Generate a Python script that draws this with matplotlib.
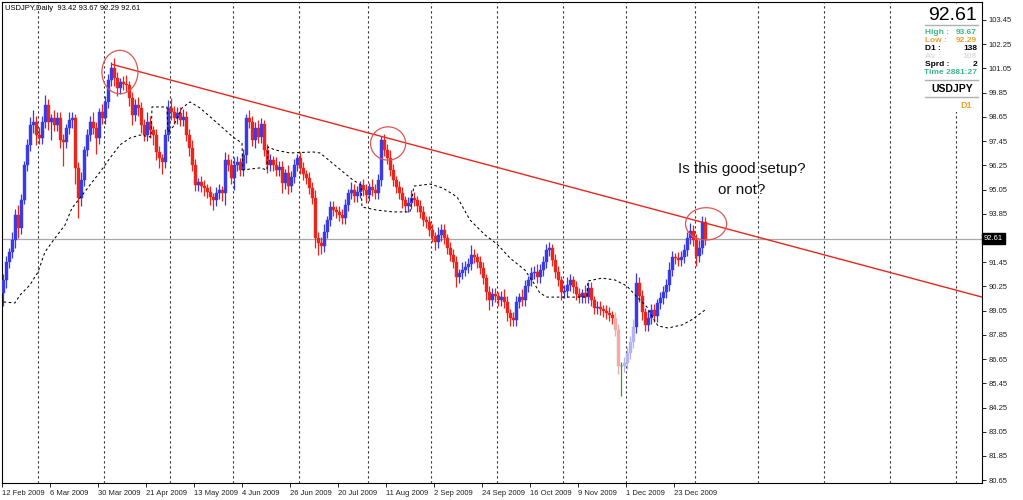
import numpy as np
import matplotlib.pyplot as plt
from matplotlib.patches import Ellipse, Rectangle

# ---- data (USDJPY daily) ----
closes = [
    90.57, 91.46, 91.95, 92.55, 93.79, 93.14, 94.53, 96.26, 97.26, 98.25,
    98.39, 97.75, 97.60, 98.39, 99.24, 98.39, 98.59, 98.25, 98.59, 97.50,
    97.40, 98.10, 98.49, 98.59, 96.12, 94.63, 95.52, 97.01, 97.75, 98.39,
    98.10, 97.60, 98.89, 98.59, 99.39, 100.48, 101.07, 100.58, 100.08, 100.38,
    100.30, 100.23, 99.58, 98.74, 99.24, 99.09, 98.25, 97.75, 98.39, 98.00,
    97.75, 96.91, 96.61, 96.41, 97.75, 99.09, 98.89, 98.59, 98.84, 98.49,
    98.64, 97.75, 97.11, 96.26, 95.27, 95.42, 95.22, 95.12, 94.93, 94.68,
    94.53, 94.88, 95.03, 94.88, 96.51, 96.26, 95.62, 96.26, 96.41, 96.02,
    96.76, 98.59, 98.39, 97.50, 98.10, 97.65, 98.30, 97.01, 96.26, 96.51,
    96.26, 96.02, 96.16, 95.37, 95.87, 95.22, 95.67, 96.26, 96.61, 96.12,
    95.82, 95.62, 95.12, 94.63, 92.65, 92.40, 92.25, 92.94, 93.54, 94.18,
    94.03, 93.94, 93.79, 93.64, 94.28, 94.88, 95.03, 94.73, 94.93, 95.27,
    95.03, 94.78, 95.17, 95.03, 94.88, 95.52, 97.50, 97.01, 96.61, 96.02,
    95.52, 95.17, 94.88, 94.53, 94.23, 94.38, 94.63, 94.53, 94.23, 93.94,
    93.54, 93.44, 93.04, 92.75, 92.45, 92.80, 93.04, 92.65, 92.15, 91.80,
    91.46, 90.71, 90.91, 91.06, 91.21, 91.36, 91.80, 91.71, 91.46, 91.16,
    90.67, 89.97, 89.57, 89.87, 89.77, 89.57, 89.72, 89.48, 88.93, 88.68,
    88.58, 89.48, 89.72, 89.57, 90.27, 90.57, 90.91, 90.96, 90.71, 91.06,
    91.46, 92.05, 92.15, 91.56, 90.96, 90.57, 89.97, 90.02, 90.32, 90.57,
    90.22, 89.87, 89.72, 89.92, 89.72, 90.17, 89.57, 89.18, 89.23, 89.13,
    89.03, 88.93, 88.83, 88.68, 88.09, 86.30, 86.30, 86.45, 86.95, 87.49,
    88.24, 90.42, 89.77, 88.98, 88.34, 88.68, 89.08, 88.78, 89.43, 89.67,
    89.97, 90.32, 91.06, 91.71, 91.66, 91.56, 91.71, 92.05, 92.65, 92.99,
    92.55, 91.76, 92.15, 93.42, 92.61,
]
first_open = 89.90

wick_up = [
    0.3, 0.3, 0.2, 0.4, 0.3, 0.5, 0.3, 0.2, 0.3, 0.4, 0.6, 0.3, 0.4, 0.3, 0.5, 0.3, 0.2, 0.4, 0.3, 0.3,
    0.3, 0.2, 0.4, 0.3, 0.2, 0.3, 0.4, 0.2, 0.3, 0.3, 0.5, 0.3, 0.2, 0.4, 0.3, 0.3, 0.3, 0.5, 0.3, 0.2,
    0.3, 0.4, 0.2, 0.3, 0.3, 0.4, 0.3, 0.3, 0.5, 0.3, 0.2, 0.3, 0.3, 0.2, 0.3, 0.4, 0.5, 0.3, 0.3, 0.3,
    0.4, 0.3, 0.3, 0.4, 0.3, 0.2, 0.3, 0.3, 0.2, 0.3, 0.2, 0.3, 0.3, 0.2, 0.4, 0.3, 0.3, 0.4, 0.3, 0.2,
    0.3, 0.2, 0.4, 0.3, 0.3, 0.4, 0.3, 0.2, 0.3, 0.3, 0.2, 0.4, 0.3, 0.3, 0.2, 0.4, 0.3, 0.3, 0.2, 0.3,
    0.3, 0.2, 0.3, 0.3, 0.4, 0.3, 0.3, 0.4, 0.2, 0.3, 0.3, 0.2, 0.3, 0.3, 0.3, 0.2, 0.4, 0.3, 0.3, 0.2,
    0.3, 0.3, 0.2, 0.4, 0.3, 0.3, 0.2, 0.3, 0.3, 0.4, 0.3, 0.2, 0.3, 0.3, 0.2, 0.3, 0.4, 0.3, 0.2, 0.3,
    0.3, 0.2, 0.3, 0.3, 0.2, 0.4, 0.3, 0.3, 0.2, 0.3, 0.3, 0.3, 0.2, 0.4, 0.3, 0.3, 0.5, 0.3, 0.2, 0.3,
    0.3, 0.2, 0.3, 0.3, 0.3, 0.2, 0.3, 0.4, 0.3, 0.2, 0.3, 0.3, 0.2, 0.4, 0.3, 0.2, 0.3, 0.3, 0.4, 0.3,
    0.3, 0.3, 0.3, 0.2, 0.3, 0.3, 0.2, 0.3, 0.4, 0.3, 0.2, 0.3, 0.3, 0.2, 0.4, 0.3, 0.3, 0.2, 0.3, 0.3,
    0.2, 0.3, 0.3, 0.2, 0.3, 0.3, 0.2, 0.3, 0.3, 0.3, 0.4, 0.5, 0.3, 0.3, 0.2, 0.4, 0.3, 0.3, 0.2, 0.3,
    0.3, 0.3, 0.4, 0.3, 0.2, 0.3, 0.3, 0.3, 0.3, 0.4, 0.3, 0.3, 0.4, 0.3, 0.25,
]
wick_dn = [
    0.6, 0.4, 0.3, 0.3, 0.4, 0.5, 0.3, 0.2, 0.3, 0.3, 0.4, 0.5, 0.3, 0.3, 0.3, 0.4, 0.9, 0.3, 0.3, 0.4,
    1.2, 0.3, 0.3, 0.4, 0.8, 1.0, 0.4, 0.3, 0.3, 0.3, 0.3, 0.8, 0.3, 0.3, 0.3, 0.3, 0.3, 0.4, 0.4, 0.3,
    0.3, 0.3, 0.4, 0.5, 0.3, 0.4, 0.4, 0.3, 0.3, 0.4, 0.5, 0.4, 0.5, 0.6, 0.3, 0.3, 0.4, 0.3, 0.3, 0.3,
    0.3, 0.3, 0.4, 0.3, 0.3, 0.3, 0.3, 0.4, 0.3, 0.4, 0.5, 0.3, 0.3, 0.4, 0.6, 0.3, 0.3, 0.6, 0.3, 0.3,
    0.3, 0.4, 0.3, 0.3, 0.4, 0.3, 0.3, 0.3, 0.4, 0.3, 0.3, 0.3, 0.3, 0.5, 0.3, 0.4, 0.3, 0.3, 0.3, 0.3,
    0.3, 0.3, 0.3, 0.3, 0.5, 0.6, 0.4, 0.3, 0.3, 0.3, 0.3, 0.3, 0.3, 0.3, 0.3, 0.3, 0.3, 0.3, 0.3, 0.3,
    0.3, 0.4, 0.3, 0.3, 0.3, 0.3, 0.3, 0.3, 0.3, 0.3, 0.3, 0.3, 0.3, 0.4, 0.3, 0.3, 0.3, 0.3, 0.3, 0.3,
    0.3, 0.3, 0.3, 0.3, 0.4, 0.3, 0.3, 0.3, 0.3, 0.3, 0.3, 0.5, 0.3, 0.3, 0.3, 0.3, 0.3, 0.3, 0.3, 0.3,
    0.3, 0.4, 0.5, 0.3, 0.3, 0.3, 0.3, 0.3, 0.4, 0.4, 0.3, 0.3, 0.3, 0.3, 0.3, 0.3, 0.3, 0.3, 0.3, 0.3,
    0.3, 0.3, 0.3, 0.3, 0.3, 0.3, 0.4, 0.3, 0.3, 0.3, 0.3, 0.3, 0.3, 0.3, 0.3, 0.3, 0.3, 0.3, 0.3, 0.3,
    0.3, 0.3, 0.3, 0.3, 0.3, 0.4, 1.5, 0.3, 0.3, 0.3, 0.3, 0.3, 0.3, 0.4, 0.3, 0.3, 0.3, 0.3, 0.3, 0.3,
    0.3, 0.3, 0.3, 0.3, 0.3, 0.3, 0.3, 0.3, 0.3, 0.3, 0.3, 0.5, 0.3, 0.3, 0.32,
]

# dashed average (bar index, price), vertical steps included
ma_bar = [0, 3.8, 5.5, 8.8, 11.5, 13.8, 17.2, 20.5, 22.8, 25.5, 28.8, 32.2, 35.5, 38.8,
          42.2, 45.5, 49.2, 49.5, 54.5, 54.8, 56.5, 59.5, 62.2, 65.5, 71.2, 76.5, 79.5,
          79.8, 85.5, 87.8, 88.2, 90.5, 95.5, 103.2, 105.5, 108.8, 113.2, 116.5, 119.2,
          119.5, 124.5, 129.8, 135.5, 136.8, 142.2, 146.5, 151.2, 155.5, 160.5, 164.5,
          168.8, 173.8, 177.2, 178.8, 181.2, 194.5, 194.8, 199.5, 203.8, 207.8, 211.2,
          214.5, 216.5, 218.2, 221.5, 226.2, 229.8, 233.8]
ma_val = [89.48, 89.43, 89.82, 90.32, 90.96, 91.95, 92.65, 93.29, 94.13, 94.63, 95.27,
          95.92, 96.61, 97.26, 97.60, 97.75, 97.65, 99.14, 99.14, 97.90, 98.15, 99.09,
          99.39, 99.09, 98.35, 97.65, 97.35, 96.02, 96.12, 96.02, 97.16, 97.01, 96.86,
          96.91, 96.86, 96.46, 95.92, 95.52, 95.27, 94.18, 94.03, 93.94, 93.94, 95.22,
          95.32, 95.12, 94.68, 93.54, 92.80, 92.35, 91.66, 91.06, 90.32, 89.92, 89.72,
          89.72, 90.52, 90.66, 90.57, 90.27, 89.72, 89.23, 88.68, 88.29, 88.19, 88.34,
          88.63, 89.08]

trend_bar = [36.2, 326.2]
trend_val = [101.25, 89.72]

circle_bar = [38.8, 128.2, 234.2]
circle_val = [100.87, 97.33, 93.35]

month_start = [12, 34, 56, 77, 99, 122, 143, 165, 187, 208, 231, 252, 274, 296, 318]

date_labels = ['12 Feb 2009', '6 Mar 2009', '30 Mar 2009', '21 Apr 2009', '13 May 2009',
               '4 Jun 2009', '26 Jun 2009', '20 Jul 2009', '11 Aug 2009', '2 Sep 2009',
               '24 Sep 2009', '16 Oct 2009', '9 Nov 2009', '1 Dec 2009', '23 Dec 2009']
price_ticks = [103.45, 102.25, 101.05, 99.85, 98.65, 97.45, 96.25, 95.05, 93.85,
               91.45, 90.25, 89.05, 87.85, 86.65, 85.45, 84.25, 83.05, 81.85, 80.65]
bid = 92.61

# ---- figure ----
W, H = 1023, 500
fig = plt.figure(figsize=(W / 100, H / 100), dpi=100)
ax = fig.add_axes([2 / W, 17 / H, 980 / W, 481 / H])
ax.set_xlim(-0.5, 326.17)
ax.set_ylim(80.51, 104.34)

n = len(closes)
idx = np.arange(n)
c = np.array(closes)
o = np.array([first_open] + closes[:-1])
hi = np.maximum(o, c) + np.array(wick_up)
lo = np.minimum(o, c) - np.array(wick_dn)

bull, bear = '#3a3ae6', '#e8261e'
faded = range(204, 211)
cols = []
for i in range(n):
    if abs(c[i] - o[i]) < 1e-6:
        cols.append('#2ca02c')
    elif c[i] > o[i]:
        cols.append('#b4b4f2' if i in faded else bull)
    else:
        cols.append('#f4aaaa' if i in faded else bear)

# month separators
for m in month_start:
    ax.axvline(m - 0.5, color='#303030', lw=0.8, ls=(0, (2, 2.5)), zorder=1)

ax.axhline(bid, color='#a8a8a8', lw=0.9, zorder=1)

ax.vlines(idx, lo, hi, colors=cols, lw=0.9, zorder=3)
ax.bar(idx, c - o, bottom=o, width=0.78, color=cols, edgecolor=cols, lw=0.3, zorder=4)

ax.plot(ma_bar, ma_val, color='black', lw=0.75, ls=(0, (2.5, 2.5)), zorder=5)
ax.plot(trend_bar, trend_val, color='#e8261e', lw=1.0, zorder=6)

circle_w = [12.0, 11.7, 13.7]
circle_h = [2.15, 1.65, 1.6]
for b, v, w, h in zip(circle_bar, circle_val, circle_w, circle_h):
    ax.add_patch(Ellipse((b, v), w, h, fill=False, ec='#e05555', lw=0.9, zorder=7))

ax.text(246, 96.05, 'Is this good setup?', fontsize=11, family='Liberation Sans',
        ha='center', va='center', color='#111111')
ax.text(246, 95.05, 'or not?', fontsize=11, family='Liberation Sans',
        ha='center', va='center', color='#111111')

# axes styling
for s in ax.spines.values():
    s.set_color('black')
    s.set_linewidth(0.8)
ax.yaxis.tick_right()
ax.set_yticks(price_ticks)
ax.set_yticklabels(['%.2f' % p for p in price_ticks])
ax.set_xticks([16 * k - 0.5 for k in range(len(date_labels))])
ax.set_xticklabels(date_labels, ha='left')
ax.tick_params(axis='both', labelsize=5.5, length=3, width=0.6, color='black', pad=2)
for t in ax.get_xticklabels() + ax.get_yticklabels():
    t.set_family('Liberation Sans')
    t.set_color('#202020')

ax.text(1.002, bid, '%.2f' % bid, transform=ax.get_yaxis_transform(), fontsize=5.5,
        family='Liberation Sans', color='white', va='center', ha='left',
        bbox=dict(boxstyle='square,pad=0.25', fc='black', ec='black'))

# header and info panel
fig.text(5 / W, 1 - 8 / H, 'USDJPY,Daily  93.42 93.67 92.29 92.61', fontsize=5.5,
         family='Liberation Sans', va='center', ha='left')


def px(x, y):
    return x / W, 1 - y / H


# white backing so the grid does not run through the info panel
fig.add_artist(Rectangle(px(921, 112), 59 / W, 108 / H, transform=fig.transFigure,
                         fc='white', ec='none', zorder=10))

fig.text(*px(977, 16), '92.61', fontsize=14, family='Liberation Sans', ha='right',
         va='center', zorder=11)
teal, orange = '#3cb88c', '#f0a232'
rows = [('High :', '93.67', teal), ('Low :', '92.29', orange), ('D1 :', '138', 'black'),
        ('Av :', '108', '#dddddd'), ('Sprd :', '2', 'black')]
for k, (lab, val, col) in enumerate(rows):
    yy = 32 + 8 * k
    fig.text(*px(925, yy), lab, fontsize=6, weight='bold', family='Liberation Sans',
             color=col, va='center', ha='left', zorder=11)
    fig.text(*px(977, yy), val, fontsize=6, weight='bold', family='Liberation Sans',
             color=col, va='center', ha='right', zorder=11)
fig.text(*px(977, 72), 'Time 2881:27', fontsize=6, weight='bold', family='Liberation Sans',
         color=teal, va='center', ha='right', zorder=11)
fig.text(*px(952, 89), 'USDJPY', fontsize=7.5, weight='bold', family='Liberation Sans',
         va='center', ha='center', zorder=11)
fig.text(*px(966, 106), 'D1', fontsize=6.5, weight='bold', family='Liberation Sans',
         color=orange, va='center', ha='center', zorder=11)
for yy in (25, 80, 97):
    fig.add_artist(plt.Line2D([925 / W, 978 / W], [1 - yy / H] * 2, color='#b0b0b0',
                              lw=1, zorder=11))

fig.savefig('out.png', dpi=100)
